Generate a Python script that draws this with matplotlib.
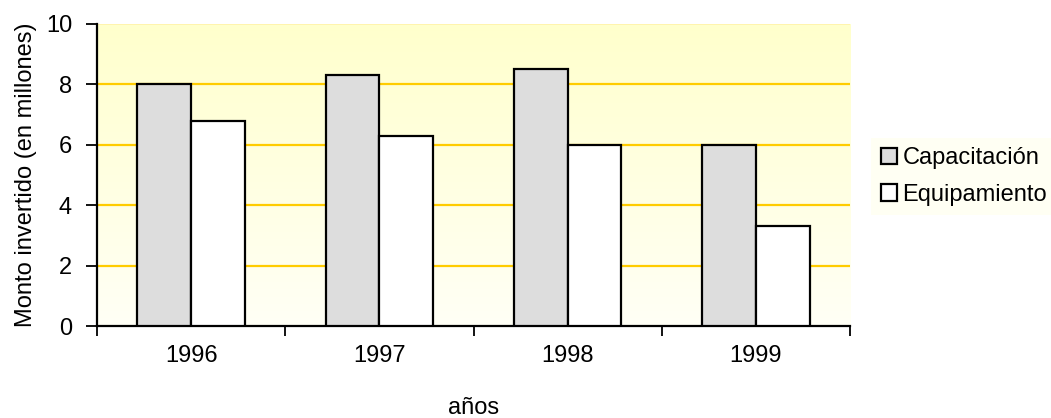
import matplotlib.pyplot as plt
import numpy as np
from matplotlib.colors import LinearSegmentedColormap
from matplotlib.patches import Patch

years = ['1996', '1997', '1998', '1999']
capacitacion = [8.0, 8.3, 8.5, 6.0]
equipamiento = [6.8, 6.3, 6.0, 3.3]

plt.rcParams['font.family'] = ['Liberation Sans', 'DejaVu Sans']
fs = 17

fig = plt.figure(figsize=(10.51, 4.18), dpi=100)
ax = fig.add_axes([0.0923, 0.22, 0.7165, 0.7226])

# soft yellow-to-white background for the plot area
grad = LinearSegmentedColormap.from_list('bg', ['#fffff6', '#ffffcc'])
ax.imshow(np.linspace(0, 1, 256).reshape(-1, 1), cmap=grad, origin='lower',
          aspect='auto', extent=[0, 1, 0, 1], transform=ax.transAxes, zorder=0)

x = np.arange(len(years))
w = 0.285
ax.bar(x - w / 2, capacitacion, w, color='#dddddd', edgecolor='black', linewidth=1.6, zorder=3)
ax.bar(x + w / 2, equipamiento, w, color='white', edgecolor='black', linewidth=1.6, zorder=3)

ax.set_xlim(-0.5, len(years) - 0.5)
ax.set_ylim(0, 10)
ax.set_yticks(range(0, 11, 2))
for v in range(2, 10, 2):
    ax.axhline(v, color='#ffcc00', linewidth=1.6, zorder=1)
ax.axhline(10, color='#fff2a8', linewidth=1.2, zorder=1)

ax.set_xticks(np.arange(len(years) + 1) - 0.5)
ax.set_xticklabels([])
ax.set_xticks(x, minor=True)
ax.set_xticklabels(years, minor=True)
ax.tick_params(axis='x', which='minor', length=0, pad=14, labelsize=fs)
ax.tick_params(axis='x', which='major', length=7, width=1.3, direction='out')
ax.tick_params(axis='y', length=8, width=1.3, direction='out', labelsize=fs, pad=10)

for s in ['top', 'right']:
    ax.spines[s].set_visible(False)
ax.spines['left'].set_linewidth(1.6)
ax.spines['bottom'].set_linewidth(1.6)

ax.set_xlabel('años', fontsize=fs, labelpad=21)
ax.set_ylabel('Monto invertido (en millones)', fontsize=fs, labelpad=6)

handles = [Patch(facecolor='#dddddd', edgecolor='black', linewidth=1.6),
           Patch(facecolor='white', edgecolor='black', linewidth=1.6)]
leg = fig.legend(handles, ['Capacitación', 'Equipamiento'], loc='center left',
                 bbox_to_anchor=(0.829, 0.578), fontsize=fs, frameon=True,
                 handlelength=0.7, handleheight=0.7, handletextpad=0.22,
                 labelspacing=0.62, borderpad=0.4, borderaxespad=0)
leg.get_frame().set_facecolor('#fffff0')
leg.get_frame().set_edgecolor('none')
leg.get_frame().set_boxstyle('square', pad=0)

fig.savefig('out.png', dpi=100)
